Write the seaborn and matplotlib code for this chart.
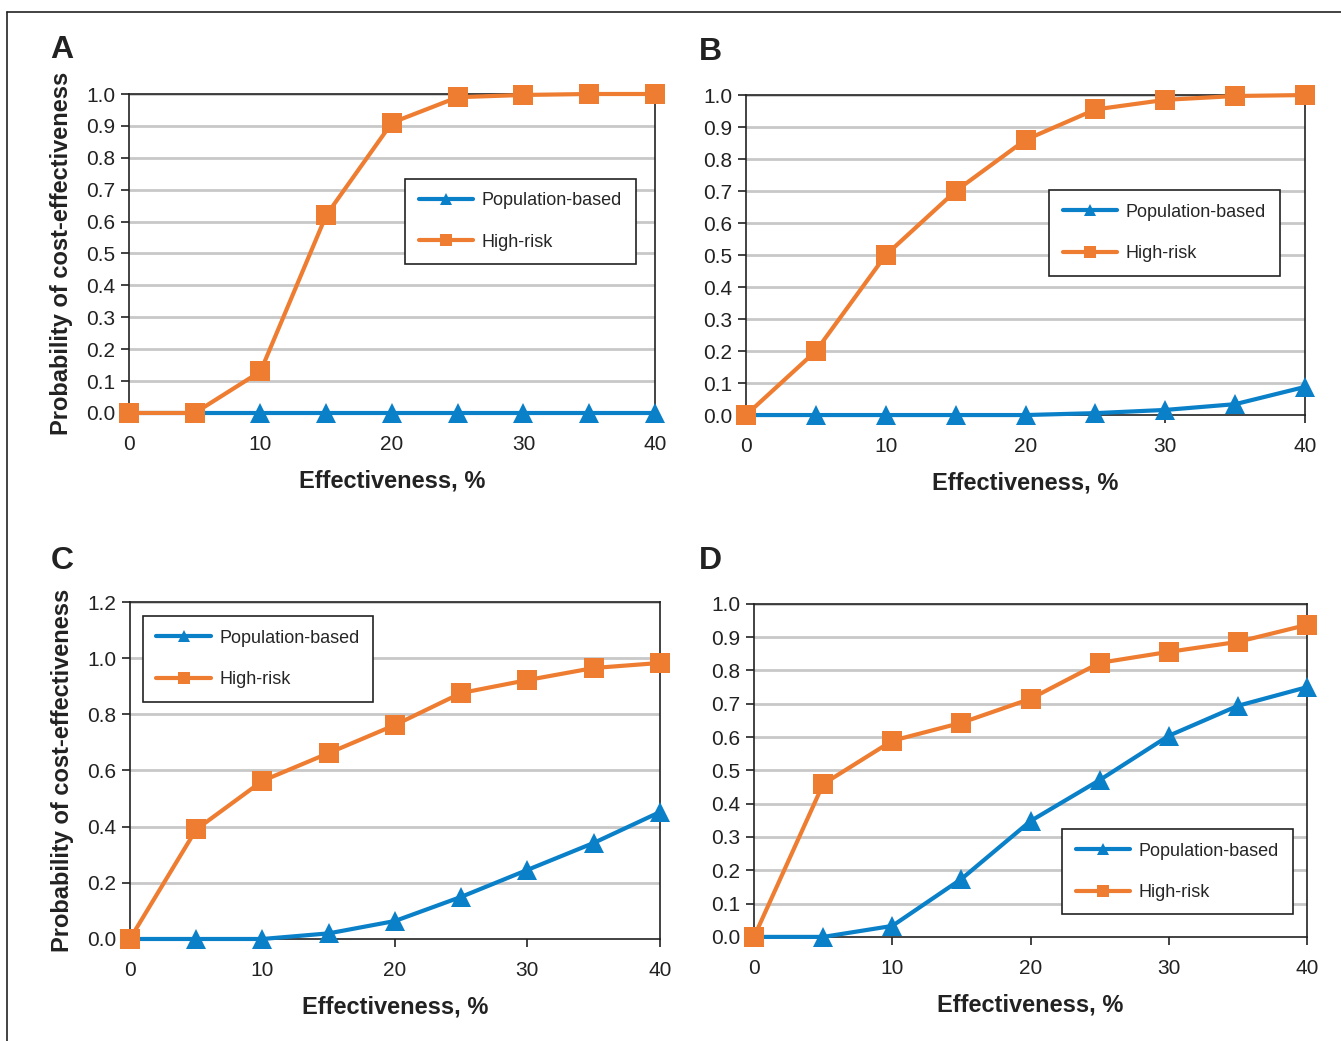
import matplotlib
matplotlib.use("Agg")
import matplotlib.pyplot as plt
import seaborn as sns
from matplotlib.lines import Line2D

# Данные
effectiveness = [0, 5, 10, 15, 20, 25, 30, 35, 40]

pop_a = [0.0, 0.0, 0.0, 0.0, 0.0, 0.0, 0.0, 0.0, 0.0]
high_a = [0.0, 0.0, 0.13, 0.62, 0.91, 0.99, 0.997, 1.0, 1.0]

pop_b = [0.0, 0.0, 0.0, 0.0, 0.0, 0.006, 0.016, 0.034, 0.088]
high_b = [0.0, 0.2, 0.5, 0.7, 0.86, 0.955, 0.985, 0.997, 1.0]

pop_c = [0.0, 0.0, 0.0, 0.02, 0.064, 0.15, 0.246, 0.342, 0.452]
high_c = [0.0, 0.39, 0.563, 0.662, 0.762, 0.876, 0.922, 0.965, 0.983]

pop_d = [0.0, 0.0, 0.033, 0.174, 0.348, 0.471, 0.604, 0.694, 0.75]
high_d = [0.0, 0.459, 0.589, 0.643, 0.715, 0.823, 0.856, 0.886, 0.937]

panel_letters = ["A", "B", "C", "D"]
series_labels = ["Population-based", "High-risk"]
xticks = [0, 10, 20, 30, 40]

BLUE = "#0A80C8"
ORANGE = "#EE7D31"

sns.set_theme(style="white")
plt.rcParams["font.family"] = ["Liberation Sans", "DejaVu Sans"]

fig = plt.figure(figsize=(13.41, 10.41), dpi=100)

# позиции осей в долях фигуры
positions = [
    [0.0962, 0.6033, 0.3922, 0.3064],
    [0.5563, 0.6013, 0.4169, 0.3074],
    [0.0969, 0.0980, 0.3952, 0.3237],
    [0.5623, 0.1000, 0.4124, 0.3199],
]
ylims = [(0, 1.0), (0, 1.0), (0, 1.2), (0, 1.0)]
ysteps = [0.1, 0.1, 0.2, 0.1]
legend_anchor = [(0.525, 0.734), (0.542, 0.703), (0.0245, 0.958), (0.557, 0.324)]
letter_pos = [(62, 50), (710, 52), (62, 561), (710, 561)]
show_ylabel = [True, False, True, False]

data = [(pop_a, high_a), (pop_b, high_b), (pop_c, high_c), (pop_d, high_d)]

for i, (pop, high) in enumerate(data):
    ax = fig.add_axes(positions[i])
    lo, hi = ylims[i]
    nsteps = int(round((hi - lo) / ysteps[i]))
    yticks = [round(lo + k * ysteps[i], 1) for k in range(nsteps + 1)]

    for y in yticks[1:]:
        ax.axhline(y, color="#C8C8C8", lw=2, zorder=0)

    sns.lineplot(x=effectiveness, y=pop, ax=ax, color=BLUE, lw=3,
                 marker="^", markersize=15, markeredgewidth=0,
                 label=series_labels[0], clip_on=False, zorder=3)
    sns.lineplot(x=effectiveness, y=high, ax=ax, color=ORANGE, lw=3,
                 marker="s", markersize=15, markeredgewidth=0,
                 label=series_labels[1], clip_on=False, zorder=4)

    ax.set_xlim(0, 40)
    ax.set_ylim(lo, hi)
    ax.set_xticks(xticks)
    ax.set_yticks(yticks)
    ax.set_yticklabels([f"{t:.1f}" for t in yticks])
    ax.tick_params(axis="both", direction="out", length=6, width=1.2,
                   color="#222222", labelsize=15, labelcolor="#222222")
    ax.tick_params(axis="x", pad=10)
    ax.tick_params(axis="y", pad=4)
    ax.tick_params(axis="both", bottom=True, left=True)
    for s in ax.spines.values():
        s.set_color("#222222")
        s.set_linewidth(1.2)
        s.set_visible(True)

    ax.set_xlabel("Effectiveness, %", fontsize=17, fontweight="bold",
                  labelpad=11, color="#222222")
    if show_ylabel[i]:
        ax.set_ylabel("Probability of cost-effectiveness", fontsize=17,
                      fontweight="bold", labelpad=9, color="#222222")
    else:
        ax.set_ylabel("")

    leg = ax.legend(loc="upper left", bbox_to_anchor=legend_anchor[i],
                    borderaxespad=0, frameon=True, fancybox=False,
                    edgecolor="#222222", framealpha=1, fontsize=13,
                    borderpad=0.75, labelspacing=1.35, handlelength=3.0,
                    handletextpad=0.5, markerscale=0.55)
    leg.get_frame().set_linewidth(1.2)

    fig.text(letter_pos[i][0] / 1341, 1 - letter_pos[i][1] / 1041,
             panel_letters[i], fontsize=23, fontweight="bold",
             ha="center", va="center", color="#222222")

# рамка вокруг рисунка (верх и левый край)
fig.add_artist(Line2D([7 / 1341, 1], [1 - 12 / 1041, 1 - 12 / 1041],
                      color="#222222", lw=1.2))
fig.add_artist(Line2D([7 / 1341, 7 / 1341], [0, 1 - 12 / 1041],
                      color="#222222", lw=1.2))

fig.savefig("out.png", dpi=100)
